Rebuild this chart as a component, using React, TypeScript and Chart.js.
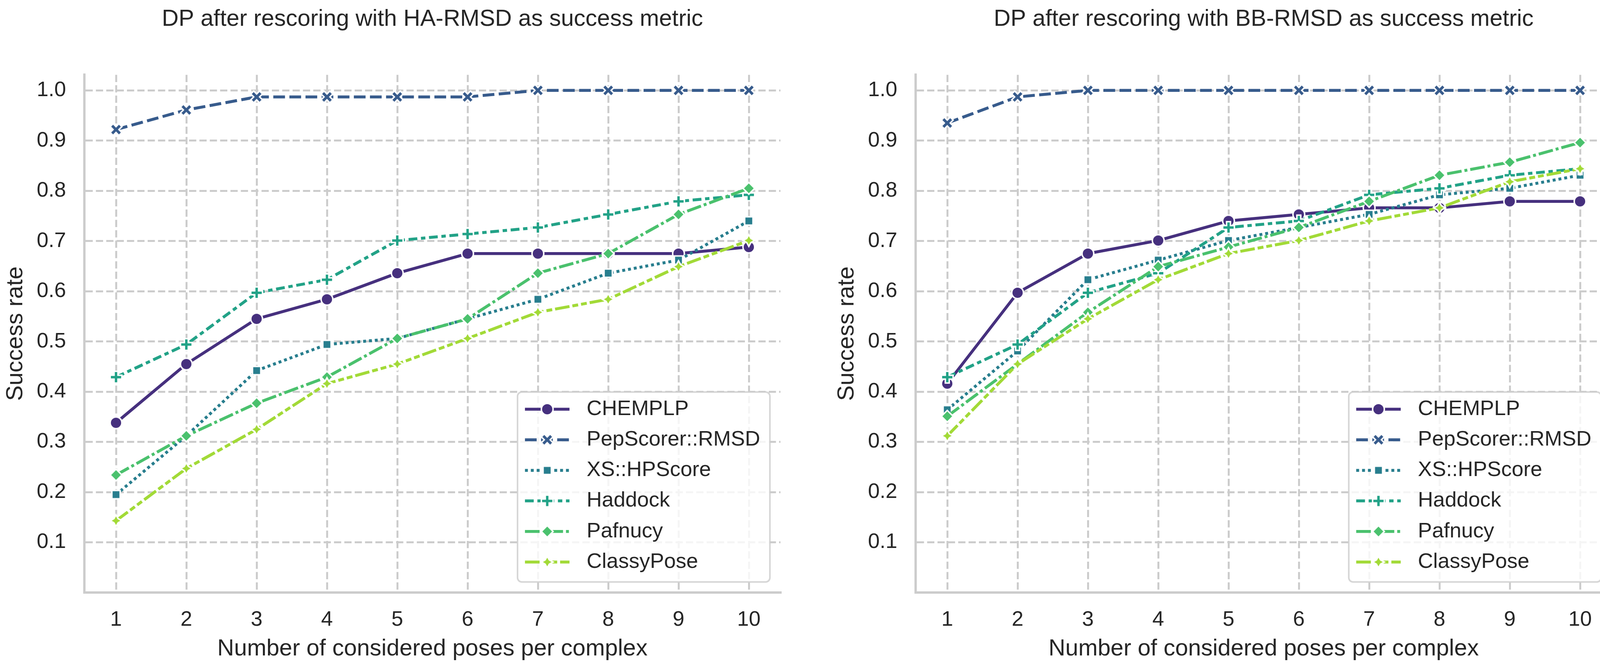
import React, { useEffect, useRef } from "react";
import { Chart, registerables } from "chart.js";

Chart.register(...registerables);

// ---------------- data ----------------
const xValues = [1, 2, 3, 4, 5, 6, 7, 8, 9, 10];
const yTicks = [0.1, 0.2, 0.3, 0.4, 0.5, 0.6, 0.7, 0.8, 0.9, 1.0];
const seriesNames = ["CHEMPLP", "PepScorer::RMSD", "XS::HPScore", "Haddock", "Pafnucy", "ClassyPose"];

const titleHA = "DP after rescoring with HA-RMSD as success metric";
const titleBB = "DP after rescoring with BB-RMSD as success metric";
const xTitle = "Number of considered poses per complex";
const yTitle = "Success rate";

// HA-RMSD
const haChemplp = [0.338, 0.455, 0.545, 0.584, 0.636, 0.675, 0.675, 0.675, 0.675, 0.688];
const haPepScorer = [0.922, 0.961, 0.987, 0.987, 0.987, 0.987, 1.0, 1.0, 1.0, 1.0];
const haXsHpScore = [0.195, 0.312, 0.442, 0.494, 0.506, 0.545, 0.584, 0.636, 0.662, 0.74];
const haHaddock = [0.429, 0.494, 0.597, 0.623, 0.701, 0.714, 0.727, 0.753, 0.779, 0.792];
const haPafnucy = [0.234, 0.312, 0.377, 0.429, 0.506, 0.545, 0.636, 0.675, 0.753, 0.805];
const haClassyPose = [0.143, 0.247, 0.325, 0.416, 0.455, 0.506, 0.558, 0.584, 0.649, 0.701];

// BB-RMSD
const bbChemplp = [0.416, 0.597, 0.675, 0.701, 0.74, 0.753, 0.766, 0.766, 0.779, 0.779];
const bbPepScorer = [0.935, 0.987, 1.0, 1.0, 1.0, 1.0, 1.0, 1.0, 1.0, 1.0];
const bbXsHpScore = [0.364, 0.481, 0.623, 0.662, 0.701, 0.727, 0.753, 0.792, 0.805, 0.831];
const bbHaddock = [0.429, 0.494, 0.597, 0.636, 0.727, 0.74, 0.792, 0.805, 0.831, 0.844];
const bbPafnucy = [0.351, 0.455, 0.558, 0.649, 0.688, 0.727, 0.779, 0.831, 0.857, 0.896];
const bbClassyPose = [0.312, 0.455, 0.545, 0.623, 0.675, 0.701, 0.74, 0.766, 0.818, 0.844];

const haSeries = [haChemplp, haPepScorer, haXsHpScore, haHaddock, haPafnucy, haClassyPose];
const bbSeries = [bbChemplp, bbPepScorer, bbXsHpScore, bbHaddock, bbPafnucy, bbClassyPose];

// ---------------- styles ----------------
const FONT = '"Liberation Sans", Arial, Helvetica, sans-serif';
const TEXT = "#262626";
const GRID = "#cccccc";
const TICK_FS = 54;
const LABEL_FS = 59.5;
const LW = 7.5;
const MARKER_SIZE = 30;
const MARKER_EDGE = 3.75;

const colors = ["#46307e", "#375b8c", "#287e8e", "#22a287", "#4ac16d", "#a2da37"];
const dashes: number[][] = [
  [],
  [4 * LW, 1.5 * LW],
  [1 * LW, 1 * LW],
  [3 * LW, 1.25 * LW, 1.5 * LW, 1.25 * LW],
  [5 * LW, 1 * LW, 1 * LW, 1 * LW],
  [5 * LW, 1 * LW, 2 * LW, 1 * LW, 2 * LW, 1 * LW],
];
const markerKinds = ["circle", "xfilled", "square", "plusfilled", "diamond", "star4"];

function makeMarker(kind: string, color: string, size: number, edge: number): HTMLCanvasElement {
  const dim = Math.ceil(size + edge * 2 + 4);
  const c = document.createElement("canvas");
  c.width = dim;
  c.height = dim;
  const ctx = c.getContext("2d")!;
  ctx.translate(dim / 2, dim / 2);
  ctx.beginPath();
  const poly = (pts: number[][]) => {
    pts.forEach(([x, y], i) => {
      if (i === 0) ctx.moveTo(x * size, -y * size);
      else ctx.lineTo(x * size, -y * size);
    });
    ctx.closePath();
  };
  if (kind === "circle") {
    ctx.arc(0, 0, size / 2, 0, Math.PI * 2);
  } else if (kind === "xfilled") {
    poly([[-1, -2], [0, -1], [1, -2], [2, -1], [1, 0], [2, 1], [1, 2], [0, 1], [-1, 2], [-2, 1], [-1, 0], [-2, -1]].map(([x, y]) => [x / 4, y / 4]));
  } else if (kind === "square") {
    const h = 0.5 * Math.cos(Math.PI / 4);
    poly([[-h, -h], [h, -h], [h, h], [-h, h]]);
  } else if (kind === "plusfilled") {
    poly([[-1, -3], [1, -3], [1, -1], [3, -1], [3, 1], [1, 1], [1, 3], [-1, 3], [-1, 1], [-3, 1], [-3, -1], [-1, -1]].map(([x, y]) => [x / 6, y / 6]));
  } else if (kind === "diamond") {
    poly([[0, 0.5], [-0.5, 0], [0, -0.5], [0.5, 0]]);
  } else {
    const pts: number[][] = [];
    for (let k = 0; k < 8; k++) {
      const a = Math.PI / 2 + (k * Math.PI) / 4;
      const r = k % 2 === 0 ? 0.5 : 0.25;
      pts.push([r * Math.cos(a), r * Math.sin(a)]);
    }
    poly(pts);
  }
  ctx.fillStyle = color;
  ctx.fill();
  ctx.lineWidth = edge;
  ctx.lineJoin = "miter";
  ctx.strokeStyle = "#ffffff";
  ctx.stroke();
  return c;
}

const legendPlugin = {
  id: "seabornLegend",
  afterDraw(chart: any) {
    const { ctx, chartArea } = chart;
    const fs = TICK_FS;
    ctx.save();
    ctx.font = `${fs}px ${FONT}`;
    const datasets = chart.data.datasets;
    const maxW = Math.max(...datasets.map((d: any) => ctx.measureText(d.label).width));
    const w = 177 + maxW + 25;
    const h = 486;
    const right = chartArea.right - 27;
    const bottom = chartArea.bottom - 27;
    const left = right - w;
    const top = bottom - h;
    ctx.beginPath();
    ctx.roundRect(left, top, w, h, 11);
    ctx.fillStyle = "rgba(255,255,255,0.8)";
    ctx.fill();
    ctx.lineWidth = 4;
    ctx.strokeStyle = "rgba(204,204,204,0.8)";
    ctx.stroke();
    datasets.forEach((d: any, i: number) => {
      const cy = top + 44 + i * 78.2;
      const x0 = left + 19;
      const x1 = x0 + 114;
      ctx.save();
      ctx.beginPath();
      ctx.setLineDash(d.borderDash || []);
      ctx.lineWidth = d.borderWidth;
      ctx.strokeStyle = d.borderColor;
      ctx.lineCap = "butt";
      ctx.moveTo(x0, cy);
      ctx.lineTo(x1, cy);
      ctx.stroke();
      ctx.restore();
      const img = d.pointStyle as HTMLCanvasElement;
      ctx.drawImage(img, (x0 + x1) / 2 - img.width / 2, cy - img.height / 2);
      ctx.fillStyle = TEXT;
      ctx.textBaseline = "middle";
      ctx.textAlign = "left";
      ctx.fillText(d.label, left + 177, cy);
    });
    ctx.restore();
  },
};

function buildConfig(title: string, series: number[][], imgs: HTMLCanvasElement[], padLeft: number, padRight: number): any {
  return {
    type: "line",
    data: {
      datasets: series.map((vals, i) => ({
        label: seriesNames[i],
        data: vals.map((v, j) => ({ x: xValues[j], y: v })),
        borderColor: colors[i],
        backgroundColor: colors[i],
        borderWidth: LW,
        borderDash: dashes[i],
        borderCapStyle: "butt",
        borderJoinStyle: "round",
        pointStyle: imgs[i],
        pointRadius: 15,
        pointHoverRadius: 15,
        tension: 0,
        fill: false,
        order: series.length - i,
      })),
    },
    options: {
      responsive: false,
      animation: false,
      events: [],
      layout: { padding: { left: padLeft, right: padRight, top: 0, bottom: 0 } },
      plugins: {
        legend: { display: false },
        tooltip: { enabled: false },
        title: {
          display: true,
          text: title,
          color: TEXT,
          fullSize: false,
          font: { size: LABEL_FS, family: FONT, weight: "normal" },
          padding: { top: 14, bottom: 106 },
        },
      },
      scales: {
        x: {
          type: "linear",
          min: 0.55,
          max: 10.45,
          afterBuildTicks: (s: any) => {
            s.ticks = xValues.map((v) => ({ value: v }));
          },
          afterFit: (s: any) => {
            s.height = 188;
          },
          ticks: {
            autoSkip: false,
            maxRotation: 0,
            padding: 38,
            color: TEXT,
            font: { size: TICK_FS, family: FONT },
            callback: (v: any) => String(v),
          },
          grid: { color: GRID, lineWidth: 5, drawTicks: false },
          border: { display: true, color: GRID, width: 6, dash: [18.5, 8] },
          title: {
            display: true,
            text: xTitle,
            color: TEXT,
            font: { size: LABEL_FS, family: FONT },
            padding: { top: 0, bottom: 7.6 },
          },
        },
        y: {
          type: "linear",
          min: 0,
          max: 1.031,
          afterBuildTicks: (s: any) => {
            s.ticks = yTicks.map((v) => ({ value: v }));
          },
          afterFit: (s: any) => {
            s.width = 216;
          },
          ticks: {
            autoSkip: false,
            padding: 47,
            color: TEXT,
            font: { size: TICK_FS, family: FONT },
            callback: (v: any) => Number(v).toFixed(1),
          },
          grid: { color: GRID, lineWidth: 5, drawTicks: false },
          border: { display: true, color: GRID, width: 6, dash: [18.5, 8] },
          title: {
            display: true,
            text: yTitle,
            color: TEXT,
            font: { size: LABEL_FS, family: FONT },
            padding: { top: 5, bottom: 0 },
          },
        },
      },
    },
    plugins: [legendPlugin],
  };
}

export default function App() {
  const leftRef = useRef<HTMLCanvasElement>(null);
  const rightRef = useRef<HTMLCanvasElement>(null);

  useEffect(() => {
    const imgs = markerKinds.map((k, i) => makeMarker(k, colors[i], MARKER_SIZE, MARKER_EDGE));
    const c1 = new Chart(leftRef.current!, buildConfig(titleHA, haSeries, imgs, 0, 77));
    const c2 = new Chart(rightRef.current!, buildConfig(titleBB, bbSeries, imgs, 53, 24));
    return () => {
      c1.destroy();
      c2.destroy();
    };
  }, []);

  return (
    <div style={{ position: "absolute", left: 0, top: 0, width: 4150, height: 1704, background: "#ffffff" }}>
      <canvas
        ref={leftRef}
        width={2075}
        height={1704}
        style={{ position: "absolute", left: 0, top: 0, width: 2075, height: 1704 }}
      />
      <canvas
        ref={rightRef}
        width={2075}
        height={1704}
        style={{ position: "absolute", left: 2075, top: 0, width: 2075, height: 1704 }}
      />
    </div>
  );
}
